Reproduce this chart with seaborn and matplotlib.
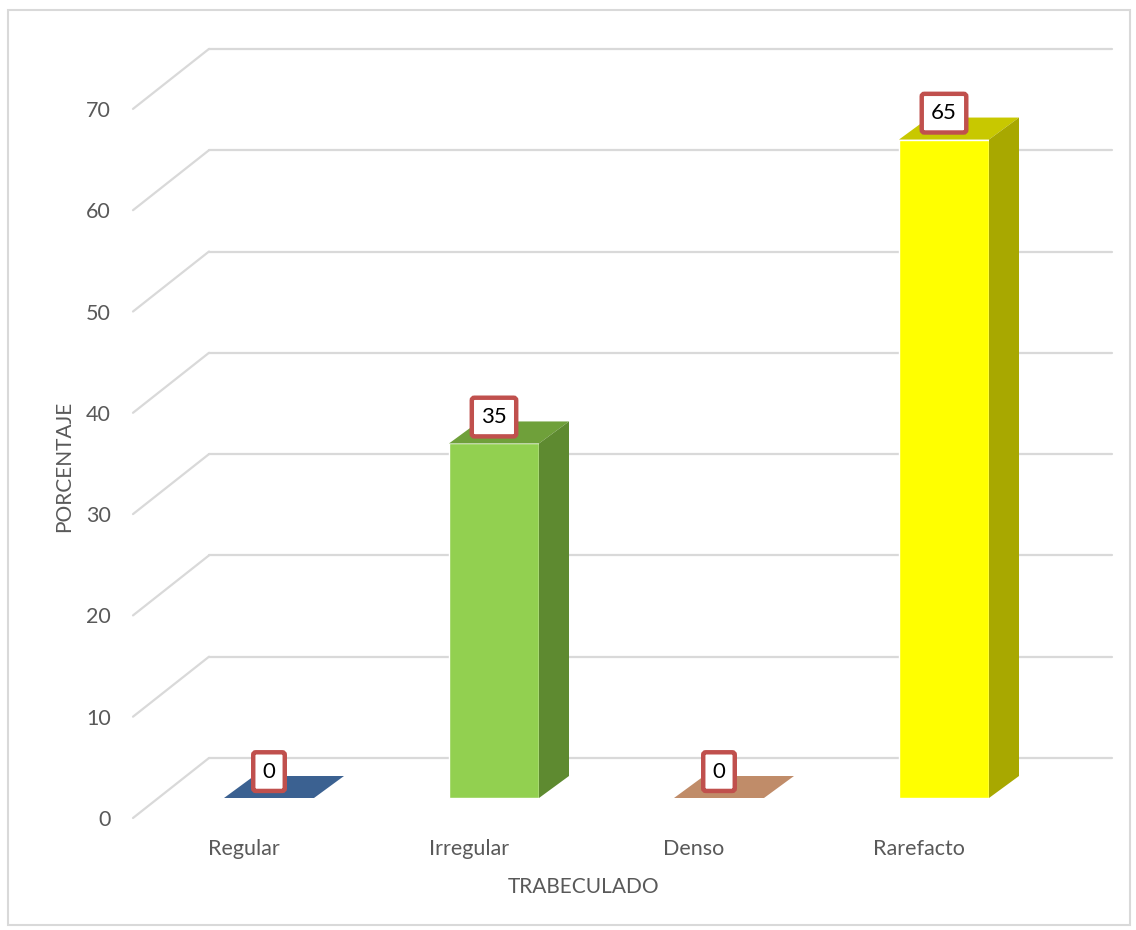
import matplotlib
matplotlib.use("Agg")
import matplotlib.pyplot as plt
from matplotlib.patches import Polygon, Rectangle
import seaborn as sns
import pandas as pd

categories = ["Regular", "Irregular", "Denso", "Rarefacto"]
values = [0, 35, 0, 65]
front_colors = ["#4F81BD", "#92D050", "#D9A47E", "#FFFF00"]
top_colors = ["#3B6191", "#6FA03A", "#C08C69", "#C8C800"]
side_colors = ["#2F4F78", "#5E8A30", "#A87A5A", "#A8A800"]
yticks = [0, 10, 20, 30, 40, 50, 60, 70]
xlabel = "TRABECULADO"
ylabel = "PORCENTAJE"

sns.set_theme(style="white")
plt.rcParams["font.family"] = ["Lato", "DejaVu Sans"]

W, H = 1136, 930
fig = plt.figure(figsize=(W / 100, H / 100), dpi=100)
# axes rectangle in pixels: left 133, right 1112, bottom 818, top 30
L, R, B, T = 133, 1112, 818, 30
ax = fig.add_axes([L / W, (H - B) / H, (R - L) / W, (B - T) / H])

X0 = 269.0   # pixel of first bar centre
PX = 225.0   # pixels per category
Y0 = 798.0   # pixel of value 0 on bar plane
PY = 10.13   # pixels per unit
xlim = ((L - X0) / PX, (R - X0) / PX)
ylim = ((Y0 - B) / PY, (Y0 - T) / PY)
ax.set_xlim(*xlim)
ax.set_ylim(*ylim)

def dx(px):
    return px / PX

def dy(px):
    return px / PY

grid_c = "#D9D9D9"
for v in yticks:
    yb = v + dy(40)
    yf = v - dy(20)
    xb = xlim[0] + dx(76)
    ax.plot([xb, xlim[1]], [yb, yb], color=grid_c, lw=1.6, zorder=0, clip_on=False)
    ax.plot([xlim[0], xb], [yf, yb], color=grid_c, lw=1.6, zorder=0, clip_on=False)

df = pd.DataFrame({"cat": categories, "val": values})
bw = 90 / PX
sns.barplot(data=df, x="cat", y="val", hue="cat", palette=front_colors,
            width=bw, legend=False, ax=ax, saturation=1, zorder=3)
ax.set_xlim(*xlim)
ax.set_ylim(*ylim)

ddx, ddy = dx(30), dy(22)
for i, (v, tc, sc) in enumerate(zip(values, top_colors, side_colors)):
    x1, x2 = i - bw / 2, i + bw / 2
    top = Polygon([(x1, v), (x2, v), (x2 + ddx, v + ddy), (x1 + ddx, v + ddy)],
                  closed=True, facecolor=tc, edgecolor="none", zorder=3)
    ax.add_patch(top)
    if v > 0:
        side = Polygon([(x2, 0), (x2 + ddx, ddy), (x2 + ddx, v + ddy), (x2, v)],
                       closed=True, facecolor=sc, edgecolor="none", zorder=3)
        ax.add_patch(side)
    ax.annotate(str(v), xy=(i, v), xytext=(0, 19), textcoords="offset points",
                ha="center", va="center", fontsize=16, color="black", zorder=5,
                bbox=dict(boxstyle="round,pad=0.42,rounding_size=0.12",
                          facecolor="white", edgecolor="#C0504D", linewidth=3.2))

for s in ax.spines.values():
    s.set_visible(False)
ax.set_yticks([v - dy(20) for v in yticks])
ax.set_yticklabels([str(v) for v in yticks])
ax.set_xticks([i - dx(25) for i in range(len(categories))])
ax.set_xticklabels(categories)
ax.tick_params(axis="y", length=0, pad=16, labelsize=15.5, labelcolor="#595959")
ax.tick_params(axis="x", length=0, pad=15, labelsize=15.5, labelcolor="#595959")
ax.set_xlabel(xlabel, fontsize=15, color="#595959", va="center")
ax.set_ylabel(ylabel, fontsize=15, color="#595959", va="center")
ax.xaxis.set_label_coords((584 - L) / (R - L), (B - 887) / (B - T))
ax.yaxis.set_label_coords((64 - L) / (R - L), (B - 466) / (B - T))
ax.grid(False)
ax.set_facecolor("none")

fig.patches.append(Rectangle((8 / W, 5 / H), 1122 / W, 915 / H, transform=fig.transFigure,
                             fill=False, edgecolor="#D9D9D9", linewidth=1.5))

fig.savefig("out.png", dpi=100)
